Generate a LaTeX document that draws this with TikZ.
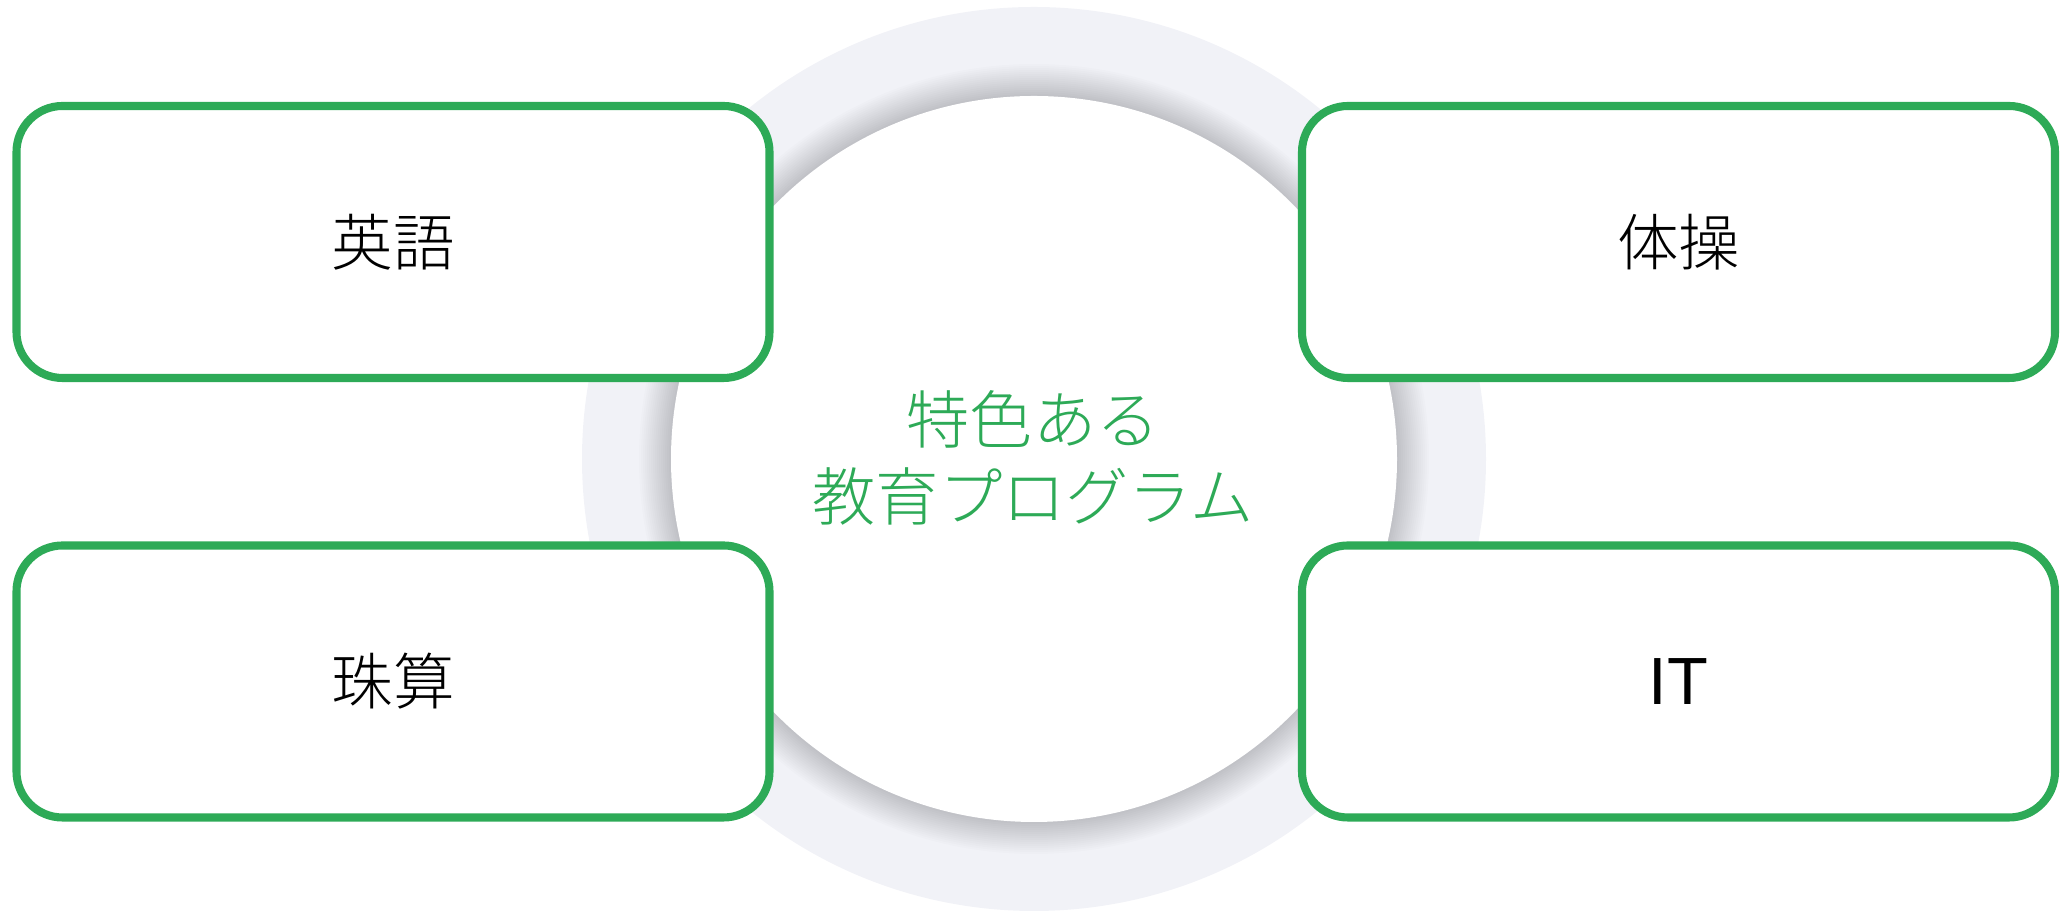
\documentclass[tikz,border=0pt]{standalone}
\usepackage{fontspec}
\usepackage{tikz}
\usetikzlibrary{positioning}
\setmainfont{Noto Sans CJK JP Light}
\newfontfamily\latinfont{Liberation Sans}
\definecolor{progreen}{HTML}{2DAA57}
\definecolor{ringgray}{HTML}{F1F2F7}

\begin{document}
\begin{tikzpicture}[font=\fontsize{17.5pt}{21pt}\selectfont,subject/.style={draw=progreen,line width=2.3pt,fill=white,rounded corners=0.46cm,minimum width=7.53cm,minimum height=2.72cm,align=center,inner sep=0pt}]
\useasboundingbox (0,0) rectangle (20.69,9.13);
\coordinate (hub) at (10.34,4.54);
\fill[ringgray] (hub) circle (4.52);
% soft shadow round the white disc
\foreach \k in {0,...,16}
  \fill[black,opacity=0.011] (hub) circle ({3.63+\k*0.02});
\fill[white] (hub) circle (3.63);
\node[text=progreen,align=center,font=\fontsize{18pt}{21.8pt}\selectfont] (title) at (10.33,4.55) {特色ある\\教育プログラム};
\node[subject] (english) at (3.93,6.71) {英語};
\node[subject] (abacus) at (3.93,2.315) {珠算};
\node[subject] (gym) at (16.785,6.71) {体操};
\node[subject,font=\latinfont\fontsize{19pt}{22pt}\selectfont] (it) at (16.785,2.315) {IT};
\end{tikzpicture}
\end{document}
